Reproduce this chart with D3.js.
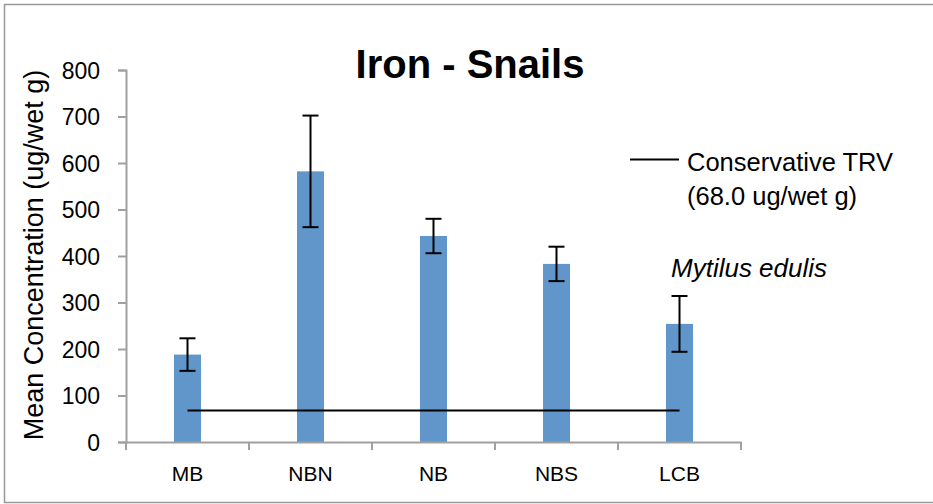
<!DOCTYPE html>
<html><head><meta charset="utf-8">
<script src="https://cdn.jsdelivr.net/npm/d3@7"></script>
<style>body{margin:0;background:#fff;} svg{display:block;}</style>
</head><body>
<script>
const categories = ["MB", "NBN", "NB", "NBS", "LCB"];
const means = [188, 582, 443, 383, 254];
const errors = [35, 120, 37, 37, 60];
const trvValue = 68;
const yTicks = [0, 100, 200, 300, 400, 500, 600, 700, 800];
const title = "Iron - Snails";
const yLabel = "Mean Concentration (ug/wet g)";
const legendLines = ["Conservative TRV", "(68.0 ug/wet g)"];
const annotation = "Mytilus edulis";

const W = 933, H = 504;
const svg = d3.select("body").append("svg").attr("width", W).attr("height", H);
const font = "'Liberation Sans', Arial, sans-serif";

svg.append("path").attr("d", `M940,4.5H4.5V502.5H940`).attr("fill","none").attr("stroke","#999").attr("stroke-width",1.5);

const xb = d3.scaleBand().domain(categories).range([126, 741]);
const y = d3.scaleLinear().domain([0, 800]).range([442, 70]);

// bars
svg.selectAll("rect.bar").data(categories).enter().append("rect")
  .attr("x", d => xb(d) + xb.bandwidth()/2 - 13.5)
  .attr("width", 27)
  .attr("y", (d,i) => y(means[i]))
  .attr("height", (d,i) => y(0) - y(means[i]))
  .attr("fill", "#6096ca");

// TRV line
svg.append("line")
  .attr("x1", xb(categories[0]) + xb.bandwidth()/2)
  .attr("x2", xb(categories[categories.length-1]) + xb.bandwidth()/2)
  .attr("y1", y(trvValue)).attr("y2", y(trvValue))
  .attr("stroke", "#000").attr("stroke-width", 2);

// error bars
const eb = svg.append("g").attr("stroke","#000").attr("stroke-width",2);
categories.forEach((c,i) => {
  const cx = xb(c) + xb.bandwidth()/2;
  eb.append("line").attr("x1",cx).attr("x2",cx).attr("y1",y(means[i]+errors[i])).attr("y2",y(means[i]-errors[i]));
  eb.append("line").attr("x1",cx-8).attr("x2",cx+8).attr("y1",y(means[i]+errors[i])).attr("y2",y(means[i]+errors[i]));
  eb.append("line").attr("x1",cx-8).attr("x2",cx+8).attr("y1",y(means[i]-errors[i])).attr("y2",y(means[i]-errors[i]));
});

// y axis
const ya = svg.append("g").attr("transform","translate(126,0)")
  .call(d3.axisLeft(y).tickValues(yTicks).tickSize(8).tickPadding(18).tickSizeOuter(8));
ya.select(".domain").attr("stroke","#a0a0a0").attr("stroke-width",2);
ya.selectAll(".tick line").attr("stroke","#a0a0a0").attr("stroke-width",2);
ya.selectAll(".tick text").attr("font-family",font).attr("font-size",23).attr("fill","#000").attr("dy","0.36em");

// x axis
const xa = svg.append("g").attr("transform","translate(0,442)")
  .call(d3.axisBottom(xb).tickSize(0).tickPadding(24).tickSizeOuter(0));
xa.select(".domain").attr("stroke","#a0a0a0").attr("stroke-width",2);
xa.selectAll(".tick text").attr("font-family",font).attr("font-size",21).attr("fill","#000");
const bounds = categories.map(c => xb(c)).concat([741]);
xa.selectAll("line.sep").data(bounds).enter().append("line").attr("class","sep")
  .attr("x1", d=>d).attr("x2", d=>d).attr("y1",0).attr("y2",8)
  .attr("stroke","#a0a0a0").attr("stroke-width",2);

// title
svg.append("text").attr("x",470).attr("y",78).attr("text-anchor","middle")
  .attr("font-family",font).attr("font-weight","bold").attr("font-size",40).text(title);

// y label
svg.append("text").attr("transform","translate(43,255) rotate(-90)").attr("text-anchor","middle")
  .attr("font-family",font).attr("font-size",27).text(yLabel);

// legend
svg.append("line").attr("x1",630).attr("x2",679).attr("y1",159.5).attr("y2",159.5).attr("stroke","#000").attr("stroke-width",2);
legendLines.forEach((t,i) => {
  svg.append("text").attr("x",687).attr("y",171 + i*34).attr("font-family",font).attr("font-size",25.5).text(t);
});

svg.append("text").attr("x",671).attr("y",277).attr("font-family",font).attr("font-style","italic").attr("font-size",26).text(annotation);
</script>
</body></html>
